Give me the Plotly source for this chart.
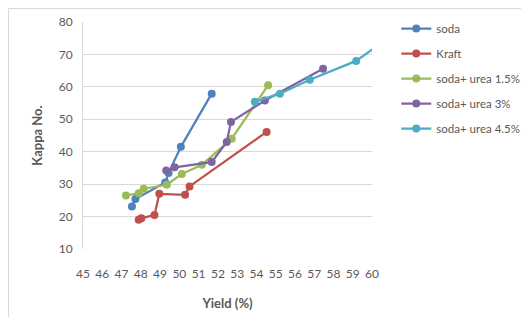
import plotly.graph_objects as go

series_names = ["soda", "Kraft", "soda+ urea 1.5%", "soda+ urea 3%", "soda+ urea 4.5%"]
soda_x = [47.54, 47.72, 49.27, 49.44, 50.08, 51.68]
soda_y = [23.1, 25.4, 30.5, 33.4, 41.5, 57.9]
kraft_x = [47.89, 48.03, 48.71, 48.96, 50.30, 50.53, 54.53]
kraft_y = [19.0, 19.5, 20.5, 27.0, 26.7, 29.3, 46.1]
u15_x = [47.23, 47.89, 48.15, 49.35, 50.13, 51.17, 52.72, 54.61]
u15_y = [26.5, 27.2, 28.6, 29.8, 33.1, 36.0, 44.0, 60.5]
u3_x = [49.32, 49.75, 51.68, 52.46, 52.68, 54.44, 57.46]
u3_y = [34.2, 35.2, 36.8, 43.0, 49.2, 55.8, 65.6]
u45_x = [53.92, 55.22, 56.77, 59.18, 61.0]
u45_y = [55.4, 57.9, 62.2, 68.0, 75.8]
colors = ["#4F81BD", "#C0504D", "#9BBB59", "#8064A2", "#4BACC6"]
x_ticks = list(range(45, 61))
y_ticks = list(range(10, 81, 10))

xs = [soda_x, kraft_x, u15_x, u3_x, u45_x]
ys = [soda_y, kraft_y, u15_y, u3_y, u45_y]

font = "Lato, 'Open Sans', sans-serif"
fig = go.Figure()
for i, name in enumerate(series_names):
    fig.add_trace(go.Scatter(
        x=xs[i], y=ys[i], name=name, mode="lines+markers",
        line=dict(color=colors[i], width=2.25),
        marker=dict(color=colors[i], size=8),
        legendgroup=name,
    ))

fig.update_layout(
    width=521, height=309,
    margin=dict(l=75, r=157, t=14, b=68, autoexpand=False),
    paper_bgcolor="white", plot_bgcolor="white",
    font=dict(family=font, size=12, color="#595959"),
    showlegend=True,
    legend=dict(x=1.084, y=1.035, xanchor="left", yanchor="top",
                font=dict(size=11.5, color="#595959"), tracegroupgap=6,
                bgcolor="rgba(0,0,0,0)"),
    xaxis=dict(range=[45, 60], tickvals=x_ticks, ticktext=[str(t) for t in x_ticks],
               showgrid=False, zeroline=False, showline=False, ticks="", automargin=False,
               tickfont=dict(size=12, color="#595959"), ticklabelstandoff=16,
               title=dict(text="<b>Yield (%)</b>", font=dict(size=13, color="#595959"), standoff=18)),
    yaxis=dict(range=[10, 80], tickvals=y_ticks, showgrid=True, gridcolor="#D9D9D9", gridwidth=1,
               zeroline=False, showline=True, linecolor="#D9D9D9", ticks="", automargin=False,
               tickfont=dict(size=12, color="#595959"), ticklabelstandoff=7,
               title=dict(text="<b>Kappa No.</b>", font=dict(size=13, color="#595959"), standoff=13)),
    shapes=[dict(type="rect", xref="paper", yref="paper", x0=-0.2578, x1=2.0, y0=-1.0, y1=1.0595,
                 line=dict(color="#D9D9D9", width=1), fillcolor="rgba(0,0,0,0)", layer="below")],
)
fig.write_html("out.html")
